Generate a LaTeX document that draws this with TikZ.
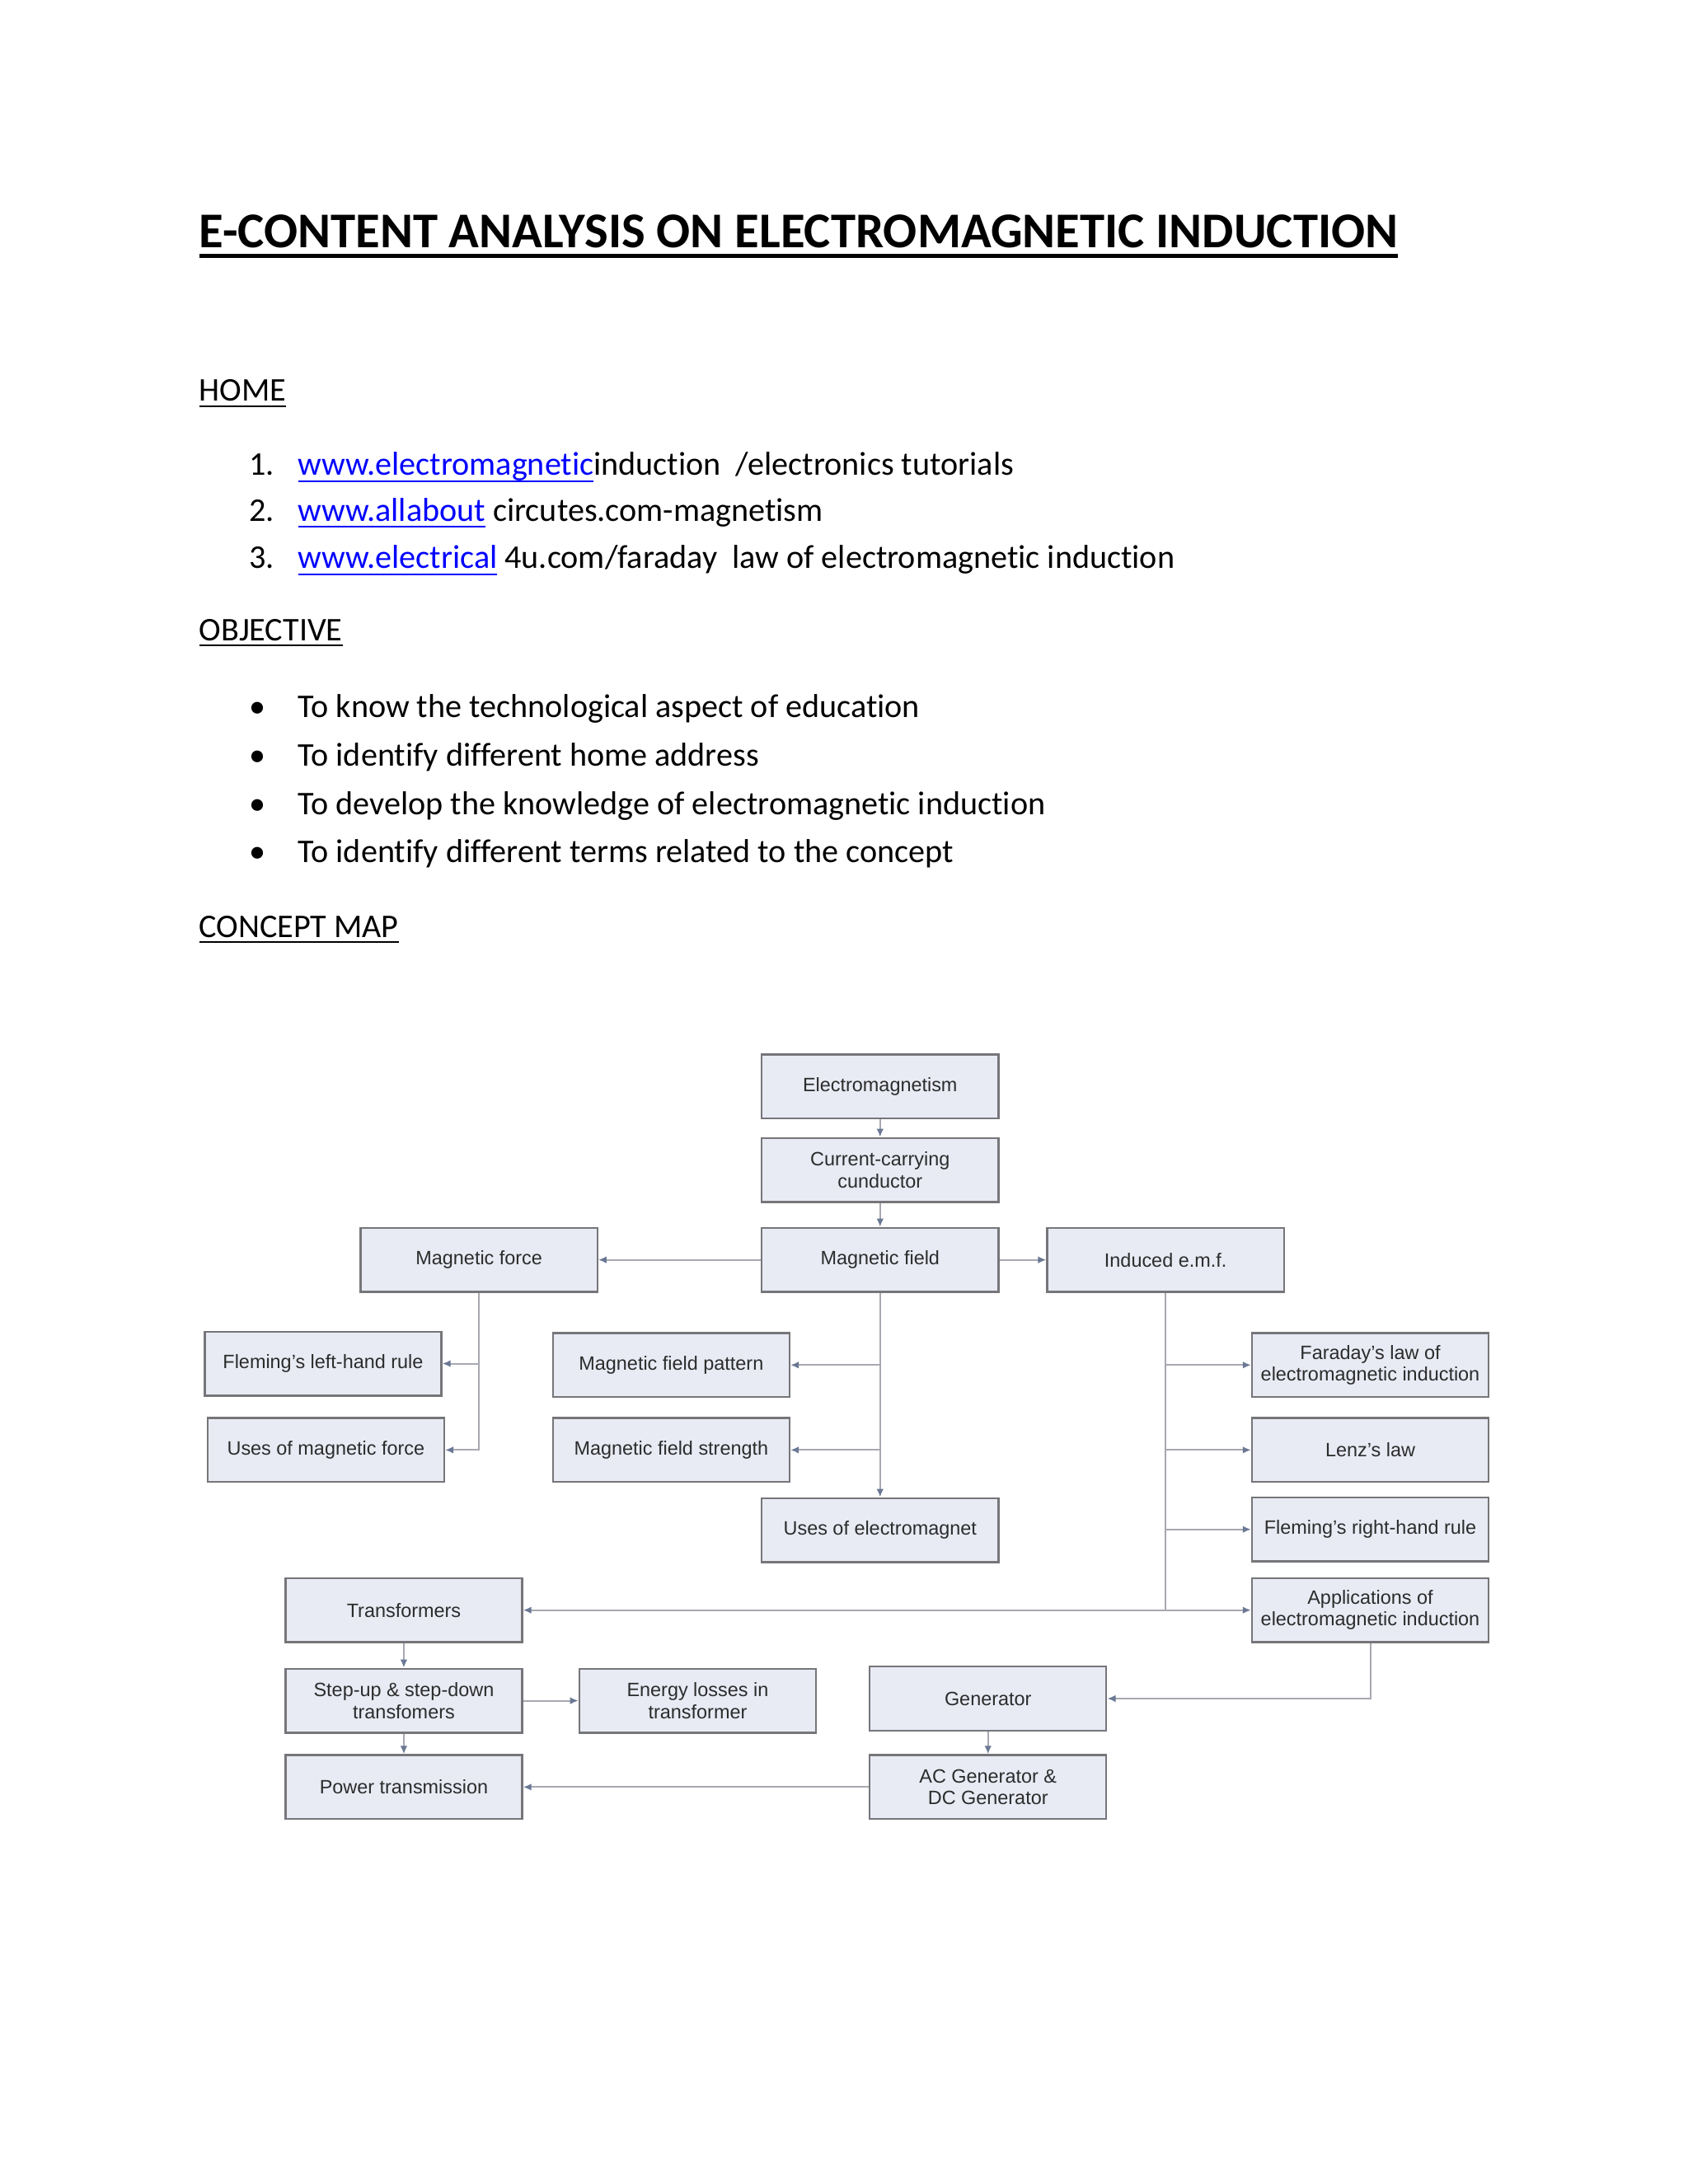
\documentclass[tikz,border=0pt]{standalone}
\usepackage{fontspec}
\setmainfont{Carlito}[Ligatures=NoCommon]
\newfontfamily\boxfont{Liberation Sans}
\usetikzlibrary{arrows.meta}
\definecolor{boxfill}{HTML}{E8EBF4}
\definecolor{boxline}{HTML}{76767A}
\definecolor{boxtext}{HTML}{2C2C2C}
\definecolor{linecol}{HTML}{A8A8B2}
\definecolor{tipcol}{HTML}{6A7894}
\definecolor{linkblue}{HTML}{0000FF}
\tikzset{
  txt/.style={anchor=base west, inner sep=0pt, outer sep=0pt, font=\fontsize{12}{14}\selectfont},
  cbox/.style={draw=boxline, fill=boxfill, line width=0.7pt, minimum width=85.8pt,
    minimum height=23.2pt, inner sep=1pt, align=center,
    font=\boxfont\fontsize{7}{7.9}\selectfont, text=boxtext},
  conn/.style={draw=linecol, line width=0.6pt},
  arr/.style={conn, -{Latex[length=3pt,width=2.6pt,color=tipcol]}},
  uline/.style={line width=0.6pt},
}
\begin{document}
\begin{tikzpicture}[x={(0.50495pt,0)}, y={(0,-0.50510pt)}]
\useasboundingbox[fill=white] (0,0) rectangle (1212,1568);

% title
\node[txt, font=\fontsize{18.15}{22}\selectfont\bfseries] (title) at (143,178) {E-CONTENT ANALYSIS ON ELECTROMAGNETIC INDUCTION};
\draw[line width=1.5pt] ([yshift=-3pt]title.base west) -- ([yshift=-3pt]title.base east);

% HOME
\node[txt] (home) at (143,288) {HOME};
\draw[uline] ([yshift=-1.8pt]home.base west) -- ([yshift=-1.8pt]home.base east);
\node[txt] (n1) at (179,341) {1.};
\node[txt] (n2) at (179,374) {2.};
\node[txt] (n3) at (179,408) {3.};
\node[txt, text=linkblue] (l1) at (214,341) {www.electromagnetic};
\draw[uline, linkblue] ([yshift=-2.2pt]l1.base west) -- ([yshift=-2.2pt]l1.base east);
\node[txt, anchor=base west] (r1) at (l1.base east) {induction\ \ /electronics tutorials};
\node[txt, text=linkblue] (l2) at (214,374) {www.allabout};
\draw[uline, linkblue] ([yshift=-2.2pt]l2.base west) -- ([yshift=-2.2pt]l2.base east);
\node[txt, anchor=base west] (r2) at (l2.base east) {\ circutes.com-magnetism};
\node[txt, text=linkblue] (l3) at (214,408) {www.electrical};
\draw[uline, linkblue] ([yshift=-2.2pt]l3.base west) -- ([yshift=-2.2pt]l3.base east);
\node[txt, anchor=base west] (r3) at (l3.base east) {\ 4u.com/faraday\ \ law of electromagnetic induction};

% OBJECTIVE
\node[txt] (obj) at (143,460) {OBJECTIVE};
\draw[uline] ([yshift=-1.8pt]obj.base west) -- ([yshift=-1.8pt]obj.base east);
\foreach \yy/\tt [count=\i] in {515/To know the technological aspect of education,
  550/To identify different home address,
  585/To develop the knowledge of electromagnetic induction,
  619/To identify different terms related to the concept}{
  \node[txt] (b\i) at (179,\yy) {\textbullet};
  \node[txt] (o\i) at (214,\yy) {\tt};
}

% CONCEPT MAP
\node[txt] (cm) at (143,673) {CONCEPT MAP};
\draw[uline] ([yshift=-1.8pt]cm.base west) -- ([yshift=-1.8pt]cm.base east);

% boxes
\node[cbox] (em)  at (632,780)    {Electromagnetism};
\node[cbox] (cc)  at (632,840)    {Current-carrying\\cunductor};
\node[cbox] (mf)  at (632,904.5)  {Magnetic field};
\node[cbox] (emf) at (837,904.5)  {Induced e.m.f.};
\node[cbox] (mfo) at (344,904.5)  {Magnetic force};
\node[cbox] (flh) at (232,979)    {Fleming’s left-hand rule};
\node[cbox] (umf) at (234,1041)   {Uses of magnetic force};
\node[cbox] (mfp) at (482,980)    {Magnetic field pattern};
\node[cbox] (mfs) at (482,1041)   {Magnetic field strength};
\node[cbox] (uem) at (632,1098.5) {Uses of electromagnet};
\node[cbox] (far) at (984,980)    {Faraday’s law of\\electromagnetic induction};
\node[cbox] (lenz) at (984,1041)  {Lenz’s law};
\node[cbox] (frh) at (984,1098)   {Fleming’s right-hand rule};
\node[cbox] (app) at (984,1156)   {Applications of\\electromagnetic induction};
\node[cbox] (tr)  at (290,1156)   {Transformers};
\node[cbox] (su)  at (290,1221)   {Step-up \& step-down\\transfomers};
\node[cbox] (el)  at (501,1221)   {Energy losses in\\transformer};
\node[cbox] (gen) at (709.5,1219.5) {Generator};
\node[cbox] (pt)  at (290,1283)   {Power transmission};
\node[cbox] (ac)  at (709.5,1283) {AC Generator \&\\DC Generator};

% connectors
\draw[arr] (em) -- (cc);
\draw[arr] (cc) -- (mf);
\draw[arr] (mf) -- (mfo);
\draw[arr] (mf) -- (emf);
\draw[arr] (mfo.south) |- (umf.east);
\draw[arr] (mfo.south |- flh.east) -- (flh.east);
\draw[arr] (mf.south) -- (uem.north);
\draw[arr] (mf.south |- mfp.east) -- (mfp.east);
\draw[arr] (mf.south |- mfs.east) -- (mfs.east);
\coordinate (emfend) at (emf.south |- app.west);
\draw[conn] (emf.south) -- (emfend);
\draw[arr] (emf.south |- far.west) -- (far.west);
\draw[arr] (emf.south |- lenz.west) -- (lenz.west);
\draw[arr] (emf.south |- frh.west) -- (frh.west);
\draw[arr] (emfend) -- (app.west);
\draw[arr] (emfend) -- (tr.east);
\draw[arr] (app.south) |- (gen.east);
\draw[arr] (tr) -- (su);
\draw[arr] (su) -- (el);
\draw[arr] (su) -- (pt);
\draw[arr] (gen) -- (ac);
\draw[arr] (ac) -- (pt);
\end{tikzpicture}
\end{document}
